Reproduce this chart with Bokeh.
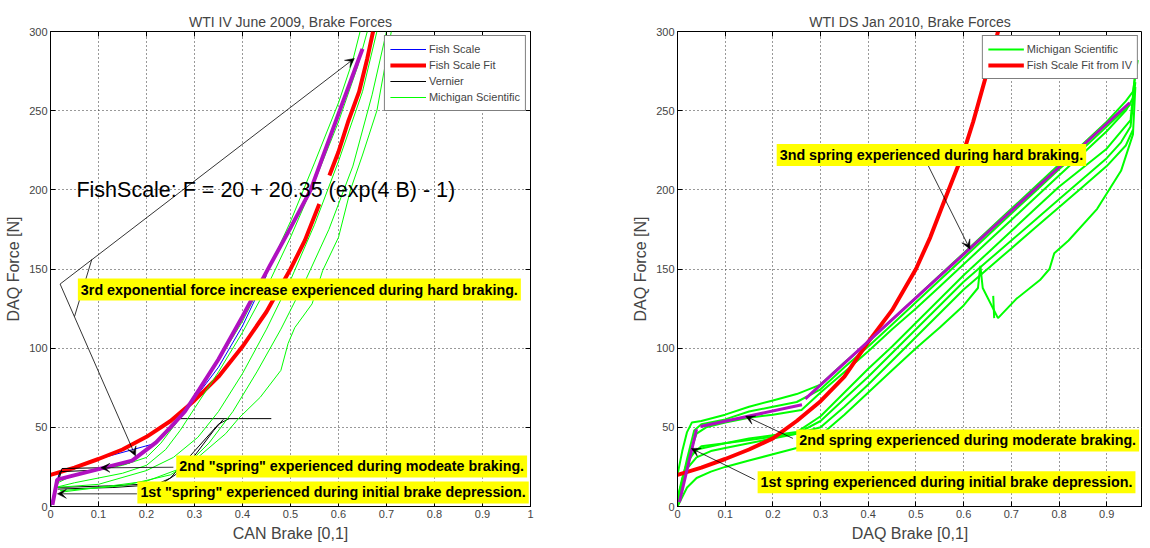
from bokeh.plotting import figure
from bokeh.layouts import row
from bokeh.models import Range1d, FixedTicker, Label, Arrow, VeeHead, LinearAxis
from bokeh.embed import file_html
from bokeh.resources import INLINE

nan = float("nan")
FONT = "Liberation Sans"

# ---------------- ticks ----------------
x_ticks = [0, 0.1, 0.2, 0.3, 0.4, 0.5, 0.6, 0.7, 0.8, 0.9, 1]
x_tick_labels = ["0", "0.1", "0.2", "0.3", "0.4", "0.5", "0.6", "0.7", "0.8", "0.9", "1"]
y_ticks = [0, 50, 100, 150, 200, 250, 300]

# ---------------- left panel data (WTI IV June 2009) ----------------
fish_b = [0.0, 0.018, 0.1, 0.22, 0.26, 0.3, 0.35, 0.4, 0.45]
fish_f = [0, 21, 30, 40, 52, 68, 88, 114, 146]

fit_b = [0.0, 0.05, 0.1, 0.15, 0.2, 0.25, 0.3, 0.35, 0.4, 0.45, 0.5, 0.53, 0.56, 0.57, 0.581, 0.6, 0.62, 0.643, 0.66, 0.672]
fit_f = [20, 24.5, 30, 36, 44, 54, 67, 82, 101, 123, 150, 168, 191, nan, 209, 224, 243, 262, 283, 300]

vern_b = [
    [0.0, 0.013, 0.024, 0.11, 0.17, 0.218, 0.267, 0.46],
    [0.013, 0.12, 0.225, 0.25, 0.27, 0.3, 0.35, 0.372],
    [0.01, 0.02, 0.1, 0.165, 0.215, 0.265],
    [0.015, 0.13, 0.23, 0.26, 0.3, 0.34, 0.36],
]
vern_f = [
    [0, 12, 24, 24.5, 29, 40, 55.5, 55.5],
    [12, 13, 14.5, 18, 25, 35, 52, 55.5],
    [10, 22, 23, 27.5, 38.5, 54],
    [11, 12, 14, 20, 32, 48, 55],
]

mich_l_b = [
    [0.005, 0.015, 0.05, 0.1, 0.15, 0.2, 0.23, 0.26, 0.3, 0.35, 0.4, 0.45, 0.5, 0.55, 0.6, 0.63, 0.645],
    [0.01, 0.05, 0.1, 0.15, 0.2, 0.24, 0.27, 0.3, 0.35, 0.4, 0.45, 0.5, 0.55, 0.6, 0.64, 0.66],
    [0.01, 0.1, 0.2, 0.256, 0.307, 0.35, 0.4, 0.45, 0.5, 0.55, 0.6, 0.65, 0.68],
    [0.02, 0.15, 0.25, 0.307, 0.365, 0.393, 0.437, 0.48, 0.495, 0.509, 0.545, 0.567, 0.6, 0.625, 0.65, 0.68, 0.71],
    [0.02, 0.1, 0.2, 0.28, 0.33, 0.38, 0.43, 0.48, 0.53, 0.58, 0.63, 0.67, 0.7],
]
mich_l_f = [
    [5, 15, 20, 23, 26, 31, 40, 52, 70, 92, 117, 147, 180, 217, 255, 282, 300],
    [12, 15, 18, 21, 26, 36, 48, 62, 85, 110, 138, 170, 205, 243, 278, 300],
    [12, 14, 22.7, 31, 43.7, 60, 84, 112, 143, 178, 218, 262, 300],
    [10, 13, 20, 31, 46, 56, 69, 86, 103, 113, 128, 149, 170, 200, 222, 250, 300],
    [9, 12, 16, 25, 40, 60, 85, 112, 142, 175, 215, 260, 300],
]

spring_l_b = [0.004, 0.014, 0.17, 0.22, 0.25, 0.28, 0.31, 0.35, 0.40, 0.455, 0.50, 0.542, 0.60, 0.65]
spring_l_f = [1, 17, 29, 40.5, 50, 60, 74, 93, 120, 151, 176, 200, 248, 289]

# ---------------- right panel data (WTI DS Jan 2010) ----------------
mich_r_b = [
    [0.0, 0.01, 0.02, 0.03, 0.05, 0.1, 0.15, 0.2, 0.25, 0.3, 0.35, 0.4, 0.45, 0.5, 0.55, 0.6, 0.65, 0.7, 0.75, 0.8, 0.85, 0.9, 0.94, 0.955, 0.96, 0.965],
    [0.0, 0.01, 0.025, 0.04, 0.06, 0.1, 0.15, 0.2, 0.26, 0.3, 0.35, 0.4, 0.45, 0.5, 0.55, 0.6, 0.65, 0.7, 0.75, 0.8, 0.85, 0.9, 0.94, 0.955],
    [0.005, 0.02, 0.035, 0.05, 0.1, 0.15, 0.2, 0.25, 0.3, 0.35, 0.4, 0.45, 0.5, 0.55, 0.6, 0.65, 0.7, 0.75, 0.8, 0.85, 0.9, 0.95],
    [0.0, 0.01, 0.02, 0.04, 0.07, 0.1, 0.15, 0.2, 0.25, 0.3, 0.35, 0.4, 0.45, 0.5, 0.55, 0.6, 0.65, 0.7, 0.75, 0.8, 0.85, 0.9, 0.93, 0.95, 0.96],
    [0.0, 0.015, 0.03, 0.05, 0.1, 0.15, 0.2, 0.25, 0.3, 0.35, 0.4, 0.45, 0.5, 0.55, 0.6, 0.65, 0.7, 0.75, 0.8, 0.85, 0.9, 0.94, 0.955],
    [0.02, 0.04, 0.1, 0.15, 0.2, 0.25, 0.3, 0.35, 0.4, 0.45, 0.5, 0.55, 0.6, 0.65, 0.7, 0.75, 0.8, 0.85, 0.9, 0.95, 0.96],
    [0.0, 0.02, 0.04, 0.07, 0.1, 0.15, 0.2, 0.25, 0.3, 0.35, 0.4, 0.45, 0.5, 0.55, 0.6, 0.63, 0.635, 0.64, 0.672, 0.71, 0.76, 0.78, 0.79, 0.82, 0.88, 0.93, 0.955, 0.96],
    [0.662, 0.664],
]
mich_r_f = [
    [20, 35, 47, 53, 54, 58, 63, 67, 71, 77, 91, 104, 118, 132, 146, 160, 174, 188, 202, 216, 229, 243, 256, 262, 272, 282],
    [5, 18, 33, 46, 50, 53, 56, 58, 61, 72, 85, 98, 112, 125, 139, 153, 167, 181, 195, 209, 223, 237, 250, 258],
    [10, 30, 48, 52, 55, 60, 63, 66, 74, 88, 101, 115, 129, 143, 157, 171, 185, 199, 213, 226, 240, 254],
    [2, 14, 24, 31, 35, 37, 40, 43, 46, 54, 68, 82, 97, 112, 127, 142, 155, 168, 181, 194, 207, 220, 230, 240, 268],
    [5, 22, 33, 38, 40, 42, 44, 46, 50, 63, 77, 92, 107, 122, 137, 150, 163, 176, 189, 202, 215, 228, 238],
    [28, 36, 40, 43, 45, 47, 57, 72, 87, 101, 116, 131, 146, 160, 174, 188, 202, 214, 226, 244, 275],
    [0, 12, 18, 22, 25, 29, 33, 37, 45, 58, 72, 86, 100, 113, 127, 138, 152, 138, 119, 131, 143, 150, 160, 168, 188, 212, 235, 265],
    [133, 119],
]

fit_r_b = [0.0, 0.05, 0.1, 0.15, 0.2, 0.25, 0.3, 0.35, 0.4, 0.45, 0.5, 0.53, 0.562, 0.6, 0.62, 0.647, 0.66, 0.672]
fit_r_f = [20, 24.5, 30, 36, 43, 54, 66.5, 82, 104, 124, 150, 170, 195, 224, 243, 272, 285, 300]

spring_r_b = [0.004, 0.04, nan, 0.048, 0.261, nan, 0.268, 0.948]
spring_r_f = [2.8, 48.8, nan, 50.5, 64.3, nan, 68, 255]


def style(p, xlabel, right_axis):
    p.title.align = "center"
    p.title.text_font = FONT
    p.title.text_font_size = "14px"
    p.title.text_font_style = "normal"
    p.title.standoff = 4
    p.xaxis.axis_label = xlabel
    p.yaxis.axis_label = "DAQ Force [N]"
    p.xaxis.ticker = FixedTicker(ticks=x_ticks)
    p.xaxis.major_label_overrides = dict(zip(x_ticks, x_tick_labels))
    p.yaxis.ticker = FixedTicker(ticks=y_ticks)
    for ax in (p.xaxis, p.yaxis):
        ax.axis_label_text_font = FONT
        ax.axis_label_text_font_size = "16px"
        ax.axis_label_text_font_style = "normal"
        ax.axis_label_standoff = 4
        ax.major_label_text_font = FONT
        ax.major_label_text_font_size = "11px"
        ax.major_label_standoff = 3
        ax.major_tick_in = 5
        ax.major_tick_out = 0
        ax.minor_tick_line_color = None
        ax.axis_line_color = "black"
        ax.major_tick_line_color = "black"
    # inward ticks on the top (and right) edges of the box, without labels
    top = LinearAxis(ticker=FixedTicker(ticks=x_ticks), major_label_text_font_size="0px",
                     major_label_text_color=None, major_label_standoff=0,
                     major_tick_in=5, major_tick_out=0,
                     minor_tick_line_color=None, axis_line_color=None)
    p.add_layout(top, "above")
    if right_axis:
        rgt = LinearAxis(ticker=FixedTicker(ticks=y_ticks), major_label_text_font_size="0px",
                         major_label_text_color=None, major_label_standoff=0,
                         major_tick_in=5, major_tick_out=0,
                         minor_tick_line_color=None, axis_line_color=None)
        p.add_layout(rgt, "right")
    p.xgrid.ticker = FixedTicker(ticks=x_ticks)
    p.ygrid.ticker = FixedTicker(ticks=y_ticks)
    for g in (p.xgrid, p.ygrid):
        g.grid_line_color = "#333333"
        g.grid_line_dash = "1 3"
        g.grid_line_width = 1
    p.outline_line_color = "black"
    p.outline_line_alpha = 1
    p.background_fill_color = "white"
    p.border_fill_color = "white"


def legend_style(p):
    lg = p.legend[0]
    lg.location = "top_right"
    lg.margin = 4
    lg.padding = 5
    lg.spacing = 0
    lg.label_text_font = FONT
    lg.label_text_font_size = "11px"
    lg.glyph_width = 36
    lg.glyph_height = 16
    lg.label_height = 16
    lg.label_standoff = 3
    lg.border_line_color = "black"
    lg.border_line_width = 1
    lg.background_fill_alpha = 1


def arrow(p, xs, ys, xe, ye):
    p.add_layout(Arrow(end=VeeHead(size=9, fill_color="black", line_color="black", line_width=0.5),
                       x_start=xs, y_start=ys, x_end=xe, y_end=ye,
                       line_color="black", line_width=0.8))


def note(p, x, y, text):
    p.add_layout(Label(x=x, y=y, text=text, text_font=FONT, text_font_size="14.3px",
                       text_font_style="bold", text_color="black", text_baseline="middle",
                       background_fill_color="#FFFF00", padding=3))


# ---------------- left figure ----------------
p1 = figure(width=629, height=546, x_range=Range1d(0, 1), y_range=Range1d(0, 300),
            title="WTI IV June 2009, Brake Forces", output_backend="svg", toolbar_location=None,
            min_border_left=50, min_border_right=99, min_border_top=31, min_border_bottom=40)
style(p1, "CAN Brake [0,1]", True)

p1.line(fish_b, fish_f, line_color="#0000FF", line_width=1, legend_label="Fish Scale")
p1.line(fit_b, fit_f, line_color="#FF0000", line_width=4, legend_label="Fish Scale Fit")
p1.multi_line(vern_b, vern_f, line_color="black", line_width=1, legend_label="Vernier")
p1.multi_line(mich_l_b, mich_l_f, line_color="#00FF00", line_width=1, legend_label="Michigan Scientific")
p1.line(spring_l_b, spring_l_f, line_color="#B010C0", line_width=4)

p1.add_layout(Label(x=0.054, y=200, text="FishScale: F = 20 + 20.35 (exp(4 B) - 1)",
                    text_font=FONT, text_font_size="21.5px", text_baseline="middle", text_color="black"))
arrow(p1, 0.02, 140.5, 0.633, 283)
arrow(p1, 0.02, 140.5, 0.177, 32)
p1.add_layout(Arrow(end=None, x_start=0.086, y_start=156, x_end=0.05, y_end=120,
                    line_color="black", line_width=0.8))
arrow(p1, 0.18, 8, 0.0144, 8)
arrow(p1, 0.256, 24.8, 0.105, 24.4)
note(p1, 0.057, 137, "3rd exponential force increase experienced during hard braking.")
note(p1, 0.262, 25.3, "2nd \"spring\" experienced during modeate braking.")
note(p1, 0.181, 8.9, "1st \"spring\" experienced during initial brake depression.")
legend_style(p1)

# ---------------- right figure ----------------
p2 = figure(width=513, height=546, x_range=Range1d(0, 0.975), y_range=Range1d(0, 300),
            title="WTI DS Jan 2010, Brake Forces", output_backend="svg", toolbar_location=None,
            min_border_left=45, min_border_right=0, min_border_top=31, min_border_bottom=40)
style(p2, "DAQ Brake [0,1]", False)

p2.multi_line(mich_r_b, mich_r_f, line_color="#00FF00", line_width=2, legend_label="Michigan Scientific")
p2.line(fit_r_b, fit_r_f, line_color="#FF0000", line_width=4, legend_label="Fish Scale Fit from IV")
p2.line(spring_r_b, spring_r_f, line_color="#B010C0", line_width=3)

arrow(p2, 0.525, 215.7, 0.613, 162.7)
arrow(p2, 0.242, 43, 0.143, 57)
arrow(p2, 0.162, 17, 0.029, 36.7)
note(p2, 0.208, 222, "3nd spring experienced during hard braking.")
note(p2, 0.249, 41.7, "2nd spring experienced during moderate braking.")
note(p2, 0.168, 15.3, "1st spring experienced during initial brake depression.")
legend_style(p2)

layout = row(p1, p2)
open("out.html", "w").write(file_html(layout, INLINE))
